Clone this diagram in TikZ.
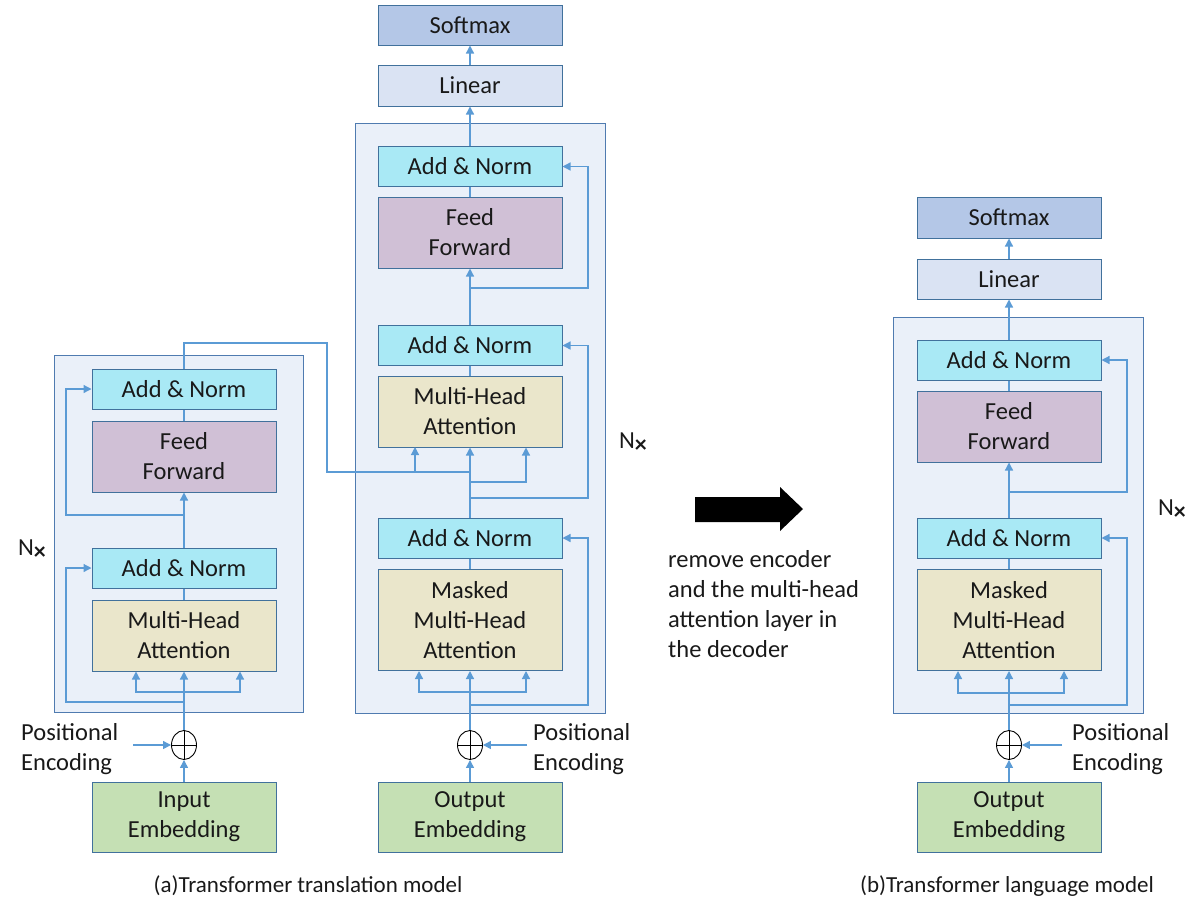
\documentclass[tikz,border=0pt]{standalone}
\usepackage{fontspec}
\setmainfont{Carlito}
\usetikzlibrary{arrows.meta,calc,shapes.geometric}
\definecolor{boxline}{HTML}{41719C}
\definecolor{panelline}{HTML}{4F7BB0}
\definecolor{panelfill}{HTML}{EAF0F9}
\definecolor{wirec}{HTML}{5B9BD5}
\definecolor{softfill}{HTML}{B4C7E7}
\definecolor{linfill}{HTML}{DAE3F3}
\definecolor{addfill}{HTML}{A9E9F5}
\definecolor{fffill}{HTML}{D0C0D6}
\definecolor{attfill}{HTML}{EAE6CB}
\definecolor{embfill}{HTML}{C5E0B4}
\tikzset{
  blk/.style={draw=boxline, line width=1pt, minimum width=184pt, inner sep=0pt, align=center, text=black!90, font=\fontsize{24.5}{30}\selectfont},
  addnorm/.style={blk, fill=addfill, minimum height=40pt},
  ffn/.style={blk, fill=fffill, minimum height=71pt},
  att/.style={blk, fill=attfill, minimum height=71pt},
  matt/.style={blk, fill=attfill, minimum height=101pt},
  emb/.style={blk, fill=embfill, minimum height=70pt},
  outbox/.style={blk, minimum height=40pt},
  panel/.style={draw=panelline, fill=panelfill, line width=1pt, inner sep=0pt},
  plus/.style={ellipse, draw=black, line width=0.9pt, minimum width=25pt, minimum height=29pt, inner sep=0pt, path picture={\draw[black, line width=0.9pt] (path picture bounding box.north) -- (path picture bounding box.south) (path picture bounding box.west) -- (path picture bounding box.east);}},
  wire/.style={draw=wirec, line width=1.3pt},
  arr/.style={wire, -{Triangle[length=8pt,width=8pt]}},
  lbl/.style={font=\fontsize{24.5}{30}\selectfont, align=left, inner sep=0pt, text=black!90},
  captext/.style={font=\fontsize{23}{26}\selectfont, inner sep=0pt, text=black!90}
}
\newcommand{\nx}{N\raisebox{-4pt}{\fontsize{24}{24}\selectfont\bfseries ×}}

\begin{document}
\begin{tikzpicture}[x=1pt,y=-1pt]
  \useasboundingbox (0,0) rectangle (1199,903);

  % panels
  \node[panel, minimum width=249pt, minimum height=357pt] (encp) at (178.5,533.5) {};
  \node[panel, minimum width=250pt, minimum height=590pt] (decp) at (480,418) {};
  \node[panel, minimum width=250pt, minimum height=396pt] (lmp) at (1018,515) {};

  % (a) encoder
  \node[addnorm] (eAN2) at (184,389) {Add \& Norm};
  \node[ffn] (eFF) at (184,456.5) {Feed\\Forward};
  \node[addnorm] (eAN1) at (184,568) {Add \& Norm};
  \node[att] (eMHA) at (184,635.5) {Multi-Head\\Attention};
  \node[plus] (eadd) at (184,745) {};
  \node[emb] (eEmb) at (184,817) {Input\\Embedding};
  \coordinate (ePE) at (133,745);

  % (a) decoder
  \node[outbox, fill=softfill] (soft) at (470,25) {Softmax};
  \node[outbox, fill=linfill, minimum height=41pt] (lin) at (470,85.5) {Linear};
  \node[addnorm] (dAN3) at (470,166.5) {Add \& Norm};
  \node[ffn] (dFF) at (470,232.5) {Feed\\Forward};
  \node[addnorm] (dAN2) at (470,345.5) {Add \& Norm};
  \node[att] (dMHA) at (470,411.5) {Multi-Head\\Attention};
  \node[addnorm] (dAN1) at (470,538) {Add \& Norm};
  \node[matt] (dMMHA) at (470,620) {Masked\\Multi-Head\\Attention};
  \node[plus] (dadd) at (470,745) {};
  \node[emb] (dEmb) at (470,817) {Output\\Embedding};
  \coordinate (dPE) at (527,745);

  % (b) language model
  \node[outbox, fill=softfill, minimum height=41pt] (lsoft) at (1009,217.5) {Softmax};
  \node[outbox, fill=linfill] (llin) at (1009,279) {Linear};
  \node[addnorm] (lAN2) at (1009,360) {Add \& Norm};
  \node[ffn] (lFF) at (1009,426.5) {Feed\\Forward};
  \node[addnorm] (lAN1) at (1009,538) {Add \& Norm};
  \node[matt] (lMMHA) at (1009,620) {Masked\\Multi-Head\\Attention};
  \node[plus] (ladd) at (1009,745) {};
  \node[emb] (lEmb) at (1009,817) {Output\\Embedding};
  \coordinate (lPE) at (1062,745);

  % encoder wiring
  \draw[arr] (eEmb) -- (eadd);
  \draw[arr] (ePE) -- (eadd);
  \draw[arr] (eadd) -- (eMHA);
  \draw[arr] (184,692) -| ($(eMHA.south)+(-48,0)$);
  \draw[arr] (184,692) -| ($(eMHA.south)+(56,0)$);
  \draw[arr] (184,702) -| (66,568) -- (eAN1.west);
  \draw[wire] (eMHA) -- (eAN1);
  \draw[arr] (eAN1) -- (eFF);
  \draw[arr] (184,515) -| (66,389) -- (eAN2.west);
  \draw[wire] (eFF) -- (eAN2);
  \draw[wire] (eAN2.north) -- (184,343) -| (327,472) -- (470,472);
  \draw[arr] (415,472) -- (415,447);
  \draw[arr] (470,472) -- (dMHA.south);

  % decoder wiring
  \draw[arr] (dEmb) -- (dadd);
  \draw[arr] (dPE) -- (dadd);
  \draw[arr] (dadd) -- (dMMHA);
  \draw[arr] (470,692) -| ($(dMMHA.south)+(-51,0)$);
  \draw[arr] (470,692) -| ($(dMMHA.south)+(56,0)$);
  \draw[arr] (470,705) -| (588,538) -- (dAN1.east);
  \draw[wire] (dMMHA) -- (dAN1);
  \draw[wire] (dAN1.north) -- (470,472);
  \draw[arr] (470,482) -| ($(dMHA.south)+(56,0)$);
  \draw[arr] (470,498) -| (588,345.5) -- (dAN2.east);
  \draw[wire] (dMHA) -- (dAN2);
  \draw[arr] (dAN2) -- (dFF);
  \draw[arr] (470,288) -| (588,166.5) -- (dAN3.east);
  \draw[wire] (dFF) -- (dAN3);
  \draw[arr] (dAN3) -- (lin);
  \draw[arr] (lin) -- (soft);

  % language model wiring
  \draw[arr] (lEmb) -- (ladd);
  \draw[arr] (lPE) -- (ladd);
  \draw[arr] (ladd) -- (lMMHA);
  \draw[arr] (1009,693) -| ($(lMMHA.south)+(-51,0)$);
  \draw[arr] (1009,693) -| ($(lMMHA.south)+(55,0)$);
  \draw[arr] (1009,705) -| (1127,538) -- (lAN1.east);
  \draw[wire] (lMMHA) -- (lAN1);
  \draw[arr] (lAN1) -- (lFF);
  \draw[arr] (1009,492) -| (1127,360) -- (lAN2.east);
  \draw[wire] (lFF) -- (lAN2);
  \draw[arr] (lAN2) -- (llin);
  \draw[arr] (llin) -- (lsoft);

  % labels
  \node[lbl, anchor=west] (epos) at (21,749) {Positional\\Encoding};
  \node[lbl, anchor=west] (dpos) at (533,749) {Positional\\Encoding};
  \node[lbl, anchor=west] (lpos) at (1072,749) {Positional\\Encoding};
  \node[lbl] (enx) at (32,550) {\nx};
  \node[lbl] (dnx) at (633,443) {\nx};
  \node[lbl] (lnx) at (1172,510) {\nx};

  % big arrow and note
  \fill[black] (695,497) -- (780,497) -- (780,487) -- (803,509) -- (780,531) -- (780,522) -- (695,522) -- cycle;
  \node[lbl, anchor=north west] (note) at (668,550) {remove encoder\\and the multi-head\\attention layer in\\the decoder};

  % captions
  \node[captext] (capa) at (308,886) {(a)Transformer translation model};
  \node[captext] (capb) at (1007,886) {(b)Transformer language model};
\end{tikzpicture}
\end{document}
